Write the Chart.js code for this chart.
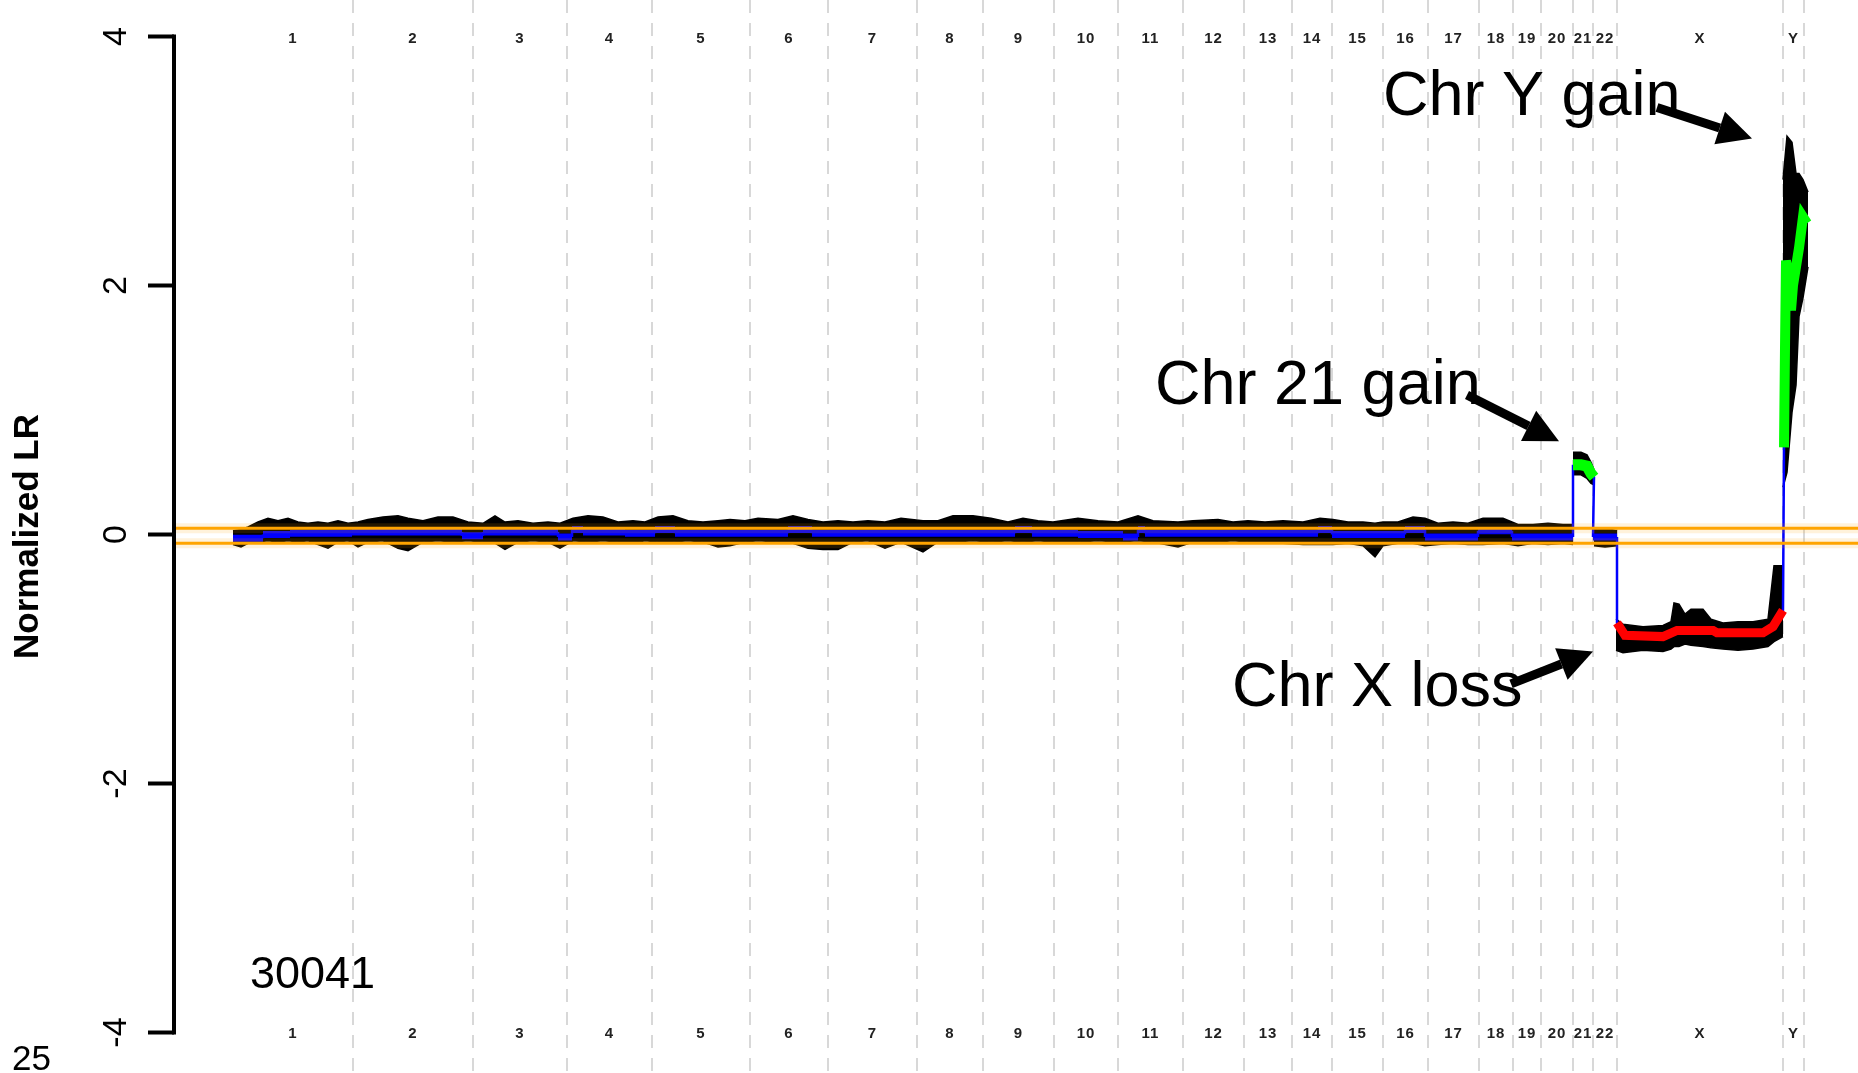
<!DOCTYPE html>
<html>
<head>
<meta charset="utf-8">
<script src="https://cdn.jsdelivr.net/npm/chart.js@4.4.1/dist/chart.umd.min.js"></script>
<style>
  html, body { margin: 0; padding: 0; background: #fff; overflow: hidden; }
  canvas { display: block; }
</style>
</head>
<body>
<canvas id="cnv" width="1858" height="1073"></canvas>
<script>
// positions along the genome are in probe-index units, chr1 starts at 0
const chrNames = ['1','2','3','4','5','6','7','8','9','10','11','12','13','14','15','16','17','18','19','20','21','22','X','Y'];
const chrBounds = [0, 120, 240, 334, 419, 517, 595, 684, 750, 821, 885, 950, 1011, 1059, 1099, 1150, 1195, 1246, 1280, 1308, 1340, 1360, 1384, 1550, 1571];
const yTicks = [-4, -2, 0, 2, 4];
const thresholds = [0.05, -0.07];

// segmentation: [start, end, mean LR]
const segments = [
  [0, 30, -0.03], [30, 57, 0.0], [57, 119, 0.01], [119, 229, 0.02], [229, 250, -0.01],
  [250, 325, 0.02], [325, 339, -0.02], [339, 350, 0.04], [350, 392, 0.02], [392, 422, 0.01],
  [422, 442, 0.04], [442, 555, 0.01], [555, 579, 0.04], [579, 782, 0.01], [782, 799, 0.04],
  [799, 845, 0.01], [845, 890, 0.0], [890, 905, -0.02], [905, 912, 0.04], [912, 1085, 0.01],
  [1085, 1099, 0.04], [1099, 1172, 0.0], [1172, 1192, 0.04], [1192, 1245, -0.02], [1245, 1279, 0.03],
  [1279, 1340, -0.02], [1360, 1384, -0.02]
];

// smoothed calls: [position, LR]
const gain21 = [[1340, 0.56], [1348, 0.56], [1354, 0.55], [1358, 0.49], [1361, 0.46]];
const lossX = [[1384, -0.71], [1392, -0.81], [1430, -0.82], [1444, -0.77], [1480, -0.77], [1484, -0.79], [1530, -0.79], [1540, -0.74], [1550, -0.61]];
const gainY = [[1551, 0.70], [1552, 1.5], [1553, 2.2], [1556, 2.05], [1558, 1.8], [1560, 2.0], [1563, 2.15], [1566, 2.3], [1570, 2.55], [1574, 2.5]];

// spread of the probe values: [position, upper, lower]
const bandAuto = [
  [0, 0.03, -0.08], [8, 0.04, -0.10], [15, 0.06, -0.07], [25, 0.10, -0.06], [35, 0.13, -0.05],
  [45, 0.11, -0.06], [55, 0.13, -0.05], [65, 0.10, -0.06], [75, 0.09, -0.05], [85, 0.10, -0.08],
  [95, 0.09, -0.11], [105, 0.11, -0.06], [115, 0.09, -0.05], [125, 0.10, -0.10], [135, 0.12, -0.06],
  [150, 0.14, -0.05], [165, 0.15, -0.11], [175, 0.13, -0.13], [190, 0.11, -0.06], [205, 0.14, -0.05],
  [220, 0.14, -0.06], [235, 0.10, -0.05], [250, 0.09, -0.06], [262, 0.15, -0.07], [272, 0.10, -0.12],
  [285, 0.11, -0.06], [300, 0.09, -0.05], [315, 0.10, -0.06], [327, 0.09, -0.11], [340, 0.13, -0.05],
  [355, 0.15, -0.06], [370, 0.14, -0.05], [385, 0.10, -0.06], [400, 0.11, -0.07], [412, 0.10, -0.05],
  [425, 0.14, -0.06], [440, 0.15, -0.06], [455, 0.11, -0.05], [470, 0.10, -0.06], [485, 0.11, -0.10],
  [497, 0.12, -0.09], [512, 0.11, -0.06], [525, 0.13, -0.05], [545, 0.12, -0.06], [560, 0.15, -0.07],
  [575, 0.12, -0.11], [590, 0.10, -0.12], [605, 0.11, -0.12], [620, 0.10, -0.06], [635, 0.11, -0.05],
  [652, 0.10, -0.11], [668, 0.13, -0.06], [690, 0.11, -0.14], [705, 0.11, -0.06], [720, 0.15, -0.06],
  [740, 0.15, -0.05], [758, 0.13, -0.06], [775, 0.10, -0.05], [790, 0.13, -0.06], [805, 0.11, -0.05],
  [820, 0.10, -0.06], [845, 0.13, -0.06], [865, 0.11, -0.05], [885, 0.10, -0.06], [905, 0.15, -0.05],
  [920, 0.11, -0.06], [945, 0.10, -0.10], [960, 0.11, -0.06], [985, 0.12, -0.06], [1000, 0.10, -0.05],
  [1015, 0.11, -0.06], [1032, 0.10, -0.07], [1050, 0.11, -0.07], [1070, 0.10, -0.08], [1087, 0.13, -0.08],
  [1100, 0.12, -0.08], [1115, 0.10, -0.07], [1130, 0.10, -0.09], [1142, 0.09, -0.18], [1150, 0.10, -0.09],
  [1165, 0.10, -0.07], [1180, 0.14, -0.07], [1192, 0.13, -0.09], [1205, 0.09, -0.08], [1220, 0.10, -0.07],
  [1235, 0.09, -0.08], [1250, 0.13, -0.08], [1270, 0.13, -0.07], [1285, 0.08, -0.09], [1300, 0.08, -0.07],
  [1315, 0.09, -0.08], [1330, 0.08, -0.07], [1340, 0.08, -0.08]
];
const band21 = [[1340, 0.66, 0.48], [1348, 0.66, 0.48], [1354, 0.64, 0.45], [1358, 0.58, 0.41], [1361, 0.52, 0.40]];
const band22 = [[1361, 0.04, -0.09], [1372, 0.05, -0.10], [1384, 0.03, -0.09]];
const bandX = [
  [1383, -0.68, -0.93], [1390, -0.72, -0.95], [1410, -0.74, -0.93], [1430, -0.73, -0.94], [1438, -0.70, -0.92],
  [1441, -0.55, -0.90], [1446, -0.56, -0.90], [1452, -0.64, -0.88], [1458, -0.60, -0.89], [1470, -0.60, -0.90],
  [1478, -0.68, -0.91], [1490, -0.71, -0.92], [1505, -0.70, -0.93], [1520, -0.70, -0.92], [1535, -0.68, -0.90],
  [1541, -0.25, -0.86], [1550, -0.25, -0.82]
];
const bandY = [[1550, 2.85, 0.38], [1554, 3.2, 0.5], [1559, 3.15, 0.98], [1563, 2.9, 1.2], [1566, 2.9, 1.75], [1570, 2.85, 1.9], [1575, 2.75, 2.15]];

// annotations: [text, position, LR of baseline, font size]
const notes = [
  ['Chr Y gain', 1150, 3.37, 63],
  ['Chr 21 gain', 922, 1.05, 63],
  ['Chr X loss', 999, -1.38, 63],
  ['30041', 17, -3.64, 45]
];
// arrows: [from pos, from LR, to pos, to LR]
const arrows = [
  [1424, 3.43, 1519, 3.18],
  [1234, 1.12, 1326, 0.75],
  [1278, -1.20, 1360, -0.94]
];

const xMin = -59, xMax = 1625, yMin = -4.325, yMax = 4.293;
const FONT = "'Liberation Sans', Arial, Helvetica, sans-serif";

const pts = a => a.map(p => ({ x: p[0], y: p[1] }));
const seg = s => [{ x: s[0], y: s[2] }, { x: s[1], y: s[2] }];

const bluePath = [
  ...segments.filter(s => s[1] <= 1340).flatMap(seg),
  ...pts(gain21),
  ...segments.filter(s => s[0] >= 1360).flatMap(seg),
  ...pts(lossX),
  ...pts(gainY)
];

const datasets = [];
thresholds.forEach(t => {
  datasets.push({ data: [{ x: xMin, y: t }, { x: xMax, y: t }], borderColor: 'rgba(255,165,0,0.14)', borderWidth: 10, order: 0 });
  datasets.push({ data: [{ x: xMin, y: t }, { x: xMax, y: t }], borderColor: '#FFA500', borderWidth: 3, order: 0 });
});
datasets.push({ data: pts(gain21), borderColor: '#00FF00', borderWidth: 11, order: 1 });
datasets.push({ data: pts(gainY), borderColor: '#00FF00', borderWidth: 10, order: 1 });
datasets.push({ data: pts(lossX), borderColor: '#FF0000', borderWidth: 9, order: 1 });
datasets.push({
  data: bluePath, borderColor: '#0000FF', borderWidth: 3, order: 2,
  segment: { borderWidth: c => (c.p0.parsed.y === c.p1.parsed.y ? 7 : 2.5) }
});
[bandAuto, band21, band22, bandX, bandY].forEach(b => {
  datasets.push({ data: b.map(p => ({ x: p[0], y: p[1] })), borderColor: '#000', borderWidth: 1.5, order: 3 });
  datasets.push({ data: b.map(p => ({ x: p[0], y: p[2] })), borderColor: '#000', borderWidth: 1.5, backgroundColor: '#000', fill: '-1', order: 3 });
});

const overlay = {
  id: 'overlay',
  afterDraw(chart) {
    const { ctx, chartArea, scales: { x, y } } = chart;
    ctx.save();
    // R style axis line from 4 to -4
    ctx.strokeStyle = '#000';
    ctx.lineWidth = 4;
    ctx.lineCap = 'square';
    ctx.beginPath();
    ctx.moveTo(chartArea.left, y.getPixelForValue(yTicks[yTicks.length - 1]));
    ctx.lineTo(chartArea.left, y.getPixelForValue(yTicks[0]));
    ctx.stroke();

    // rotated tick labels
    ctx.fillStyle = '#000';
    ctx.font = '34px ' + FONT;
    ctx.textAlign = 'center';
    ctx.textBaseline = 'alphabetic';
    yTicks.forEach(v => {
      ctx.save();
      ctx.translate(chartArea.left - 48, y.getPixelForValue(v));
      ctx.rotate(-Math.PI / 2);
      ctx.fillText(String(v), 0, 0);
      ctx.restore();
    });

    // chromosome labels, top and bottom
    ctx.font = 'bold 15px ' + FONT;
    ctx.fillStyle = '#222';
    ctx.textBaseline = 'middle';
    if ('letterSpacing' in ctx) ctx.letterSpacing = '1px';
    chrNames.forEach((n, i) => {
      const cx = x.getPixelForValue((chrBounds[i] + chrBounds[i + 1]) / 2);
      ctx.fillText(n, cx, y.getPixelForValue(4) + 2);
      ctx.fillText(n, cx, y.getPixelForValue(-4) + 1);
    });
    if ('letterSpacing' in ctx) ctx.letterSpacing = '0px';

    // annotation texts
    ctx.fillStyle = '#000';
    ctx.textAlign = 'left';
    ctx.textBaseline = 'alphabetic';
    notes.forEach(([t, px, py, size]) => {
      ctx.font = size + 'px ' + FONT;
      ctx.fillText(t, x.getPixelForValue(px), y.getPixelForValue(py));
    });
    ctx.font = '35px ' + FONT;
    ctx.fillText('25', 12, 1070);

    // arrows
    ctx.lineCap = 'butt';
    arrows.forEach(([a, b, c, d]) => {
      const x0 = x.getPixelForValue(a), y0 = y.getPixelForValue(b);
      const x1 = x.getPixelForValue(c), y1 = y.getPixelForValue(d);
      const ang = Math.atan2(y1 - y0, x1 - x0);
      const head = 34, half = 17;
      const bx = x1 - head * Math.cos(ang), by = y1 - head * Math.sin(ang);
      ctx.lineWidth = 9;
      ctx.beginPath();
      ctx.moveTo(x0, y0);
      ctx.lineTo(bx, by);
      ctx.stroke();
      ctx.beginPath();
      ctx.moveTo(x1, y1);
      ctx.lineTo(bx + half * Math.sin(ang), by - half * Math.cos(ang));
      ctx.lineTo(bx - half * Math.sin(ang), by + half * Math.cos(ang));
      ctx.closePath();
      ctx.fill();
    });
    ctx.restore();
  }
};

new Chart(document.getElementById('cnv').getContext('2d'), {
  type: 'line',
  data: { datasets },
  options: {
    responsive: false,
    animation: false,
    devicePixelRatio: 1,
    layout: { padding: 0 },
    elements: { point: { radius: 0 }, line: { tension: 0, fill: false } },
    plugins: { legend: { display: false }, tooltip: { enabled: false } },
    scales: {
      x: {
        type: 'linear', min: xMin, max: xMax,
        afterBuildTicks: s => { s.ticks = chrBounds.slice(1).map(v => ({ value: v })); },
        afterFit: s => { s.height = 0; },
        ticks: { display: false },
        grid: { color: '#d8d8d8', lineWidth: 2, drawTicks: false, tickLength: 0 },
        border: { display: false, dash: [13, 10] }
      },
      y: {
        type: 'linear', min: yMin, max: yMax,
        afterBuildTicks: s => { s.ticks = yTicks.map(v => ({ value: v })); },
        afterFit: s => { s.width = 174; },
        ticks: { display: false },
        grid: { drawOnChartArea: false, drawTicks: true, tickLength: 26, tickColor: '#000', tickWidth: 4 },
        border: { display: false },
        title: {
          display: true, text: 'Normalized LR', color: '#000',
          font: { family: FONT, size: 35, weight: 'bold' },
          padding: { top: 7, bottom: 0 }
        }
      }
    }
  },
  plugins: [overlay]
});
</script>
</body>
</html>
